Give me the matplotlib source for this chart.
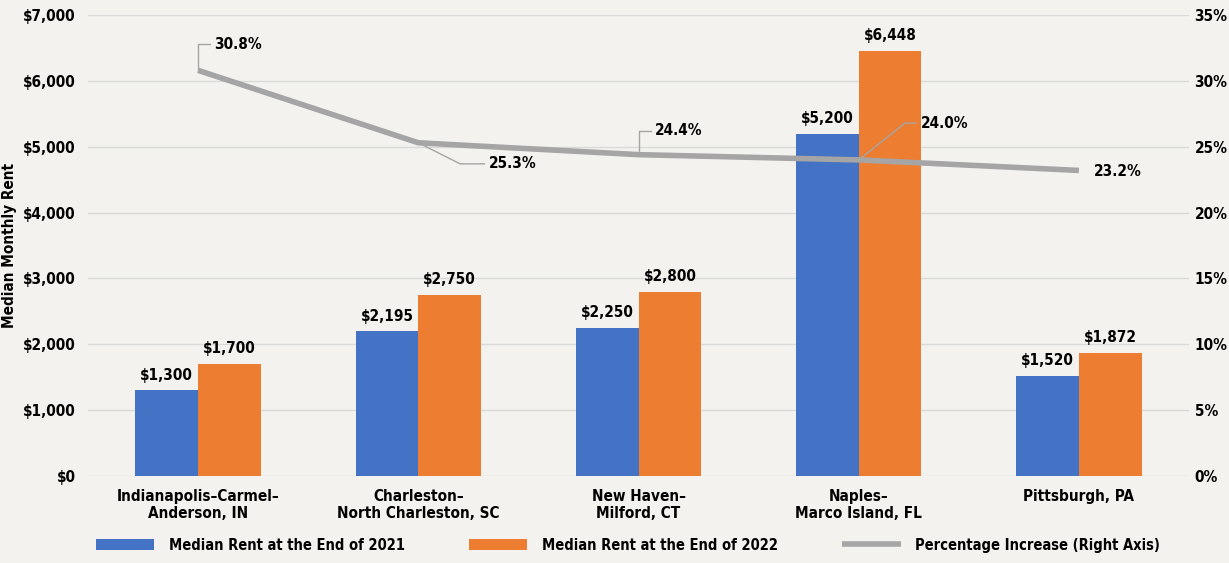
import matplotlib.pyplot as plt
import numpy as np
from matplotlib.ticker import FuncFormatter

plt.rcParams['font.family'] = ['DejaVu Sans']
plt.rcParams['font.stretch'] = 'condensed'
plt.rcParams['font.weight'] = 'bold'

# dados
cidades = ['Indianapolis\u2013Carmel\u2013\nAnderson, IN', 'Charleston\u2013\nNorth Charleston, SC',
           'New Haven\u2013\nMilford, CT', 'Naples\u2013\nMarco Island, FL', 'Pittsburgh, PA']
aluguel_2021 = [1300, 2195, 2250, 5200, 1520]
aluguel_2022 = [1700, 2750, 2800, 6448, 1872]
aumento = [30.8, 25.3, 24.4, 24.0, 23.2]

bg = '#F3F2EE'
azul = '#4472C4'
laranja = '#ED7D31'
cinza = '#A5A5A5'
fs = 11

fig = plt.figure(figsize=(12.29, 5.63), dpi=100, facecolor=bg)
ax = fig.add_axes([0.0716, 0.1545, 0.8959, 0.8188])
ax.set_facecolor(bg)

x = np.arange(len(cidades))
w = 0.285
b1 = ax.bar(x - w/2, aluguel_2021, w, color=azul, label='Median Rent at the End of 2021', zorder=2)
b2 = ax.bar(x + w/2, aluguel_2022, w, color=laranja, label='Median Rent at the End of 2022', zorder=2)

for barras, vals in [(b1, aluguel_2021), (b2, aluguel_2022)]:
    for r, v in zip(barras, vals):
        ax.text(r.get_x() + r.get_width()/2, v + 120, '${:,}'.format(v), ha='center', va='bottom',
                fontsize=fs, fontweight='bold')

ax.set_ylim(0, 7000)
ax.set_xlim(-0.5, 4.5)
ax.set_yticks(range(0, 7001, 1000))
ax.yaxis.set_major_formatter(FuncFormatter(lambda v, p: '${:,.0f}'.format(v)))
ax.set_xticks(x)
ax.set_xticklabels(cidades, fontsize=fs, fontweight='bold')
ax.grid(axis='y', color='#D9D9D9', linewidth=1, zorder=0)
ax.tick_params(length=0, labelsize=fs, pad=9)
for s in ax.spines.values():
    s.set_visible(False)
ax.set_ylabel('Median Monthly Rent', fontsize=fs, fontweight='bold', labelpad=4)

# eixo da direita
ax2 = ax.twinx()
ax2.set_ylim(0, 35)
ax2.set_yticks(range(0, 36, 5))
ax2.yaxis.set_major_formatter(FuncFormatter(lambda v, p: '{:.0f}%'.format(v)))
ax2.tick_params(length=0, labelsize=fs, pad=4)
for s in ax2.spines.values():
    s.set_visible(False)
linha, = ax2.plot(x, aumento, color=cinza, linewidth=4, solid_capstyle='butt',
                  label='Percentage Increase (Right Axis)', zorder=3)

# rotulos da linha com linhas de chamada
offsets = [(0.0, 2.0, 0.055), (0.19, -1.6, 0.11), (0.0, 1.8, 0.055), (0.21, 2.8, 0.05), None]
for i, v in enumerate(aumento):
    if offsets[i] is None:
        ax2.text(x[i] + 0.07, v - 0.1, '{:.1f}%'.format(v), ha='left', va='center', fontsize=fs, fontweight='bold')
        continue
    dx, dy, h = offsets[i]
    ax2.plot([x[i], x[i] + dx, x[i] + dx + h], [v, v + dy, v + dy], color=cinza, linewidth=1, zorder=3)
    ax2.text(x[i] + dx + h + 0.02, v + dy, '{:.1f}%'.format(v), ha='left', va='center',
             fontsize=fs, fontweight='bold')

handles = [b1, b2, linha]
fig.legend(handles=handles, labels=[h.get_label() for h in handles], loc='lower center',
           bbox_to_anchor=(0.511, -0.005), ncol=3, frameon=False, handlelength=4.0, handleheight=0.8,
           handletextpad=1.0, columnspacing=4.4, prop={'weight': 'bold', 'size': 10.5, 'stretch': 'condensed'})

plt.savefig('out.png', dpi=100, facecolor=bg)
